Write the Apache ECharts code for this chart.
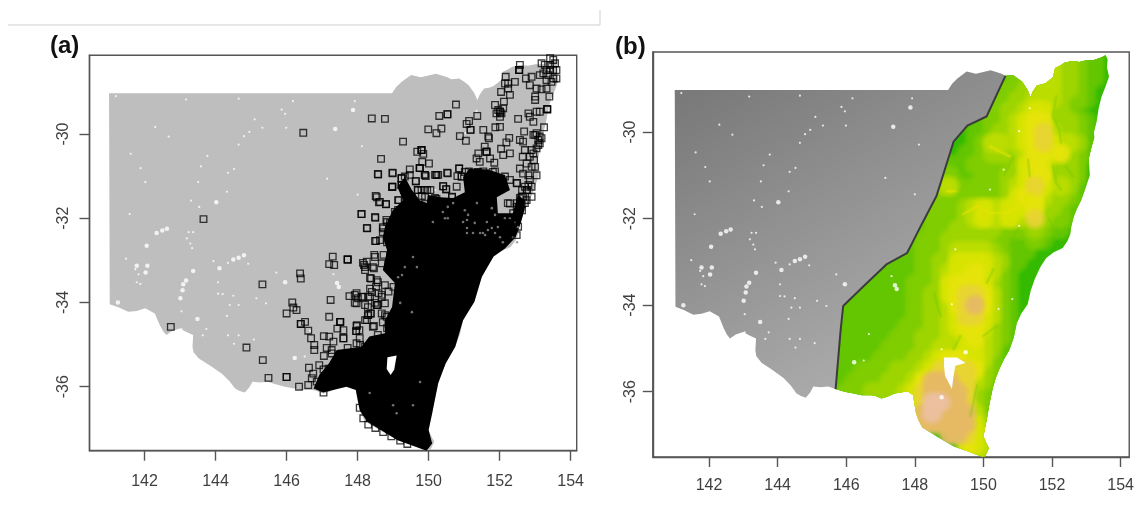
<!DOCTYPE html>
<html><head><meta charset="utf-8">
<style>html,body{margin:0;padding:0;background:#fff}#c{width:1137px;height:511px;filter:blur(0.4px)}</style>
<script src="https://cdn.jsdelivr.net/npm/echarts@6/dist/echarts.min.js"></script>
</head><body><div id="c"></div>
<script>
const lonTicks=[142,144,146,148,150,152,154];
const latTicks=[-36,-34,-32,-30];
const coastEast=[[150.64,-28.7],[150.86,-28.68],[151.0,-28.76],[151.13,-28.84],[151.22,-28.95],[151.29,-29.03],[151.37,-29.19],[151.44,-29.06],[151.56,-28.92],[151.7,-28.9],[151.83,-28.86],[152.04,-28.72],[152.06,-28.6],[152.09,-28.52],[152.24,-28.46],[152.36,-28.4],[152.58,-28.36],[152.8,-28.38],[153.0,-28.34],[153.2,-28.34],[153.44,-28.27],[153.56,-28.22],[153.62,-28.32],[153.6,-28.5],[153.66,-28.72],[153.56,-28.95],[153.44,-29.19],[153.36,-29.45],[153.3,-29.75],[153.22,-30.0],[153.23,-30.14],[153.14,-30.38],[153.07,-30.62],[153.1,-31.0],[152.98,-31.28],[152.85,-31.57],[152.72,-31.78],[152.63,-31.96],[152.56,-32.18],[152.53,-32.36],[152.45,-32.52],[152.31,-32.68],[152.05,-32.78],[151.83,-32.91],[151.66,-33.12],[151.5,-33.39],[151.38,-33.66],[151.29,-33.98],[151.1,-34.2],[150.97,-34.42],[150.88,-34.76],[150.75,-35.05],[150.6,-35.25],[150.48,-35.45],[150.36,-35.68],[150.27,-35.92],[150.17,-36.3],[150.1,-36.63],[150.0,-37.03],[150.08,-37.18],[150.16,-37.31],[150.05,-37.5],[149.94,-37.5],[149.55,-37.38],[149.13,-37.27],[148.66,-37.05],[148.22,-36.83],[148.1,-36.65],[148.03,-36.48],[147.98,-36.25],[147.95,-36.08],[147.79,-35.99],[147.6,-36.02],[147.41,-36.04],[147.2,-36.12],[147.03,-36.16],[146.85,-36.1],[146.71,-36.08],[146.45,-36.08],[146.22,-36.04],[145.95,-36.0],[145.69,-35.94]];
const borderWest=[[145.69,-35.94],[145.47,-35.88],[145.25,-35.9],[145.04,-35.88],[144.95,-36.02],[144.82,-36.14],[144.68,-36.1],[144.55,-36.04],[144.38,-35.86],[144.18,-35.69],[143.85,-35.5],[143.53,-35.33],[143.38,-35.18],[143.35,-35.05],[143.37,-34.77],[143.18,-34.7],[142.99,-34.62],[142.78,-34.68],[142.61,-34.77],[142.52,-34.68],[142.43,-34.54],[142.29,-34.26],[142.02,-34.14],[141.78,-34.2],[141.54,-34.22],[141.28,-34.12],[141.02,-34.04],[141.0,-29.03],[143.0,-29.03],[145.0,-29.03],[147.0,-29.03],[148.97,-29.03],[149.08,-28.89],[149.24,-28.76],[149.51,-28.6],[149.78,-28.65],[150.21,-28.57],[150.53,-28.65],[150.64,-28.7]];
const divideLine=[[150.64,-28.7],[150.09,-29.64],[149.53,-29.85],[149.13,-30.22],[148.63,-31.48],[148.22,-32.1],[147.77,-32.8],[147.17,-33.06],[146.51,-33.56],[145.91,-34.02],[145.83,-34.63],[145.69,-35.94]];
const snowyLake=[[148.85,-35.21],[148.85,-35.4],[148.88,-35.63],[149.08,-35.94],[149.13,-35.63],[149.18,-35.4],[149.48,-35.34],[149.23,-35.21]];
const denseGap=[[148.84,-35.3],[149.1,-35.26],[149.03,-35.6],[148.93,-35.72],[148.82,-35.58]];
const denseRecords=[[148.33,-34.81],[148.11,-35.05],[147.41,-35.13],[147.19,-35.45],[146.92,-35.72],[146.76,-36.04],[147.03,-36.14],[147.68,-36.0],[147.95,-36.08],[148.06,-36.56],[148.27,-36.83],[149.13,-37.27],[149.94,-37.52],[150.1,-37.35],[150.0,-37.03],[150.1,-36.63],[150.27,-35.92],[150.48,-35.45],[150.75,-35.05],[150.97,-34.42],[151.29,-33.98],[151.5,-33.39],[151.83,-32.91],[152.15,-32.72],[152.45,-32.45],[152.6,-32.1],[152.7,-31.8],[152.71,-31.57],[152.51,-31.45],[152.37,-31.88],[151.95,-31.88],[151.92,-31.5],[152.29,-31.33],[152.15,-30.97],[151.73,-30.86],[151.16,-30.81],[150.97,-31.02],[151.02,-31.38],[150.69,-31.52],[150.32,-31.5],[149.98,-31.45],[149.95,-31.64],[149.75,-31.57],[149.53,-31.33],[149.33,-31.02],[149.12,-31.26],[149.28,-31.57],[148.99,-31.81],[148.77,-32.21],[148.71,-32.45],[148.83,-32.76],[148.71,-33.23],[149.05,-33.54],[148.97,-34.11],[148.77,-34.42],[148.77,-34.73]];
const denseSpeckles=[[150.12,-32.09],[150.46,-32.0],[150.54,-32.0],[151.02,-31.81],[151.11,-31.92],[151.08,-32.04],[150.97,-32.09],[151.36,-31.64],[151.78,-31.76],[151.87,-31.92],[151.64,-32.09],[151.78,-32.23],[151.67,-32.28],[151.45,-32.35],[151.25,-32.35],[151.08,-32.23],[151.3,-32.11],[150.4,-31.85],[150.54,-31.73],[150.69,-31.64],[151.95,-32.21],[151.08,-32.35],[151.53,-32.35],[152.15,-32.0],[152.29,-32.0],[151.87,-32.35],[152.01,-32.45],[152.43,-32.11],[152.51,-32.21],[151.59,-32.4],[152.09,-32.57],[152.38,-32.45],[152.49,-32.57],[149.2,-34.01],[149.53,-34.23],[149.56,-32.92],[149.67,-33.16],[149.25,-33.35],[149.33,-33.16],[149.14,-33.4],[149.76,-35.89],[149.56,-36.44],[149.1,-36.63],[149.0,-36.44],[148.34,-36.15]];
const occurrenceLon=[153.51,153.42,153.27,153.18,153.23,153.37,153.32,153.51,153.6,153.51,153.46,153.6,153.42,153.56,153.42,153.32,152.57,152.55,152.55,152.55,152.17,152.15,152.24,152.43,152.24,152.04,152.29,152.12,152.74,152.9,152.85,153.04,153.18,153.32,153.13,153.0,153.0,153.4,153.13,153.34,153.34,153.34,153.04,152.81,152.85,152.52,152.95,152.69,153.25,153.0,153.13,153.09,153.04,152.95,152.66,152.57,152.71,152.65,152.85,152.97,153.0,152.57,152.66,152.81,153.04,152.81,152.9,152.76,152.62,152.9,152.48,152.29,152.57,152.43,152.38,152.24,152.48,153.13,153.09,153.18,152.9,152.95,153.04,152.9,152.76,152.85,152.71,152.66,152.76,152.62,152.48,152.38,152.48,152.29,152.52,150.77,150.3,150.53,150.53,149.99,150.22,150.36,149.28,151.14,151.07,151.37,151.18,151.18,150.88,151.05,151.54,151.68,151.7,151.88,152.01,152.27,152.19,152.04,152.1,152.29,151.87,151.96,152.05,151.91,152.1,152.01,152.01,152.01,149.8,149.8,149.8,149.68,149.85,149.75,149.75,149.75,149.82,150.01,149.47,149.24,149.24,149.24,149.33,149.24,149.24,149.24,148.98,148.98,149.89,149.92,149.64,150.22,150.22,150.52,150.86,150.86,150.81,150.93,150.93,151.13,151.38,151.54,151.87,151.54,151.73,152.15,152.29,151.4,151.58,151.63,151.63,151.63,151.44,151.73,151.85,151.35,149.69,149.8,149.96,150.41,150.5,150.66,150.22,150.13,149.14,150.79,148.66,148.58,148.98,148.11,148.11,148.27,148.51,148.63,148.8,148.5,148.49,148.4,148.77,148.72,148.91,149.05,148.81,149.14,148.63,149.0,149.19,148.91,149.33,145.32,146.38,146.4,147.3,147.2,147.34,147.72,147.72,147.72,147.24,147.77,147.97,147.97,148.12,148.18,148.26,148.21,148.46,148.38,148.54,148.47,148.73,149.05,149.38,148.68,148.91,146.0,146.16,146.19,146.28,146.4,146.4,146.52,146.61,146.69,146.78,146.78,147.2,147.43,147.51,147.51,147.51,147.6,147.97,147.96,147.96,148.05,147.05,147.2,147.32,147.6,147.6,147.13,147.27,147.72,147.05,147.27,147.97,148.07,148.21,148.26,148.3,148.46,148.21,148.37,148.37,148.54,148.54,148.68,148.59,148.35,148.3,148.87,149.01,148.77,148.68,148.82,148.87,149.05,149.15,149.1,149.2,145.33,145.49,146.0,146.0,146.35,146.61,146.63,146.75,146.92,147.04,147.18,146.71,146.85,147.04,144.87,146.47,143.66,142.74,148.06,148.16,148.3,148.5,148.72,148.95,149.2,149.4];
const occurrenceLat=[-28.24,-28.36,-28.36,-28.32,-28.56,-28.6,-28.48,-28.48,-28.48,-28.68,-28.76,-28.68,-28.2,-28.32,-28.48,-28.72,-28.36,-28.48,-28.48,-28.48,-28.64,-28.8,-28.8,-28.76,-28.92,-29.0,-29.07,-29.23,-28.68,-28.64,-28.84,-28.92,-28.94,-28.92,-28.6,-29.11,-29.19,-29.11,-29.47,-29.41,-29.41,-29.41,-29.47,-29.51,-29.59,-29.64,-29.71,-29.94,-29.84,-30.02,-30.06,-30.26,-30.34,-30.46,-30.18,-30.14,-30.38,-30.54,-30.54,-30.62,-30.78,-30.82,-30.94,-30.98,-30.98,-31.21,-31.25,-31.33,-31.49,-31.49,-31.17,-31.65,-31.73,-32.04,-32.12,-32.12,-32.4,-30.22,-30.14,-30.1,-30.38,-30.02,-29.98,-30.78,-30.7,-31.09,-31.25,-31.49,-31.57,-31.67,-31.73,-31.88,-31.96,-32.04,-32.2,-29.3,-29.57,-29.53,-29.53,-29.89,-29.98,-29.87,-30.18,-29.69,-29.76,-29.57,-29.9,-29.9,-30.05,-30.16,-29.9,-30.06,-30.1,-29.84,-29.83,-30.09,-30.2,-30.35,-30.5,-30.46,-29.31,-29.43,-29.51,-29.51,-29.39,-29.59,-29.47,-29.47,-30.38,-30.38,-30.38,-30.42,-30.47,-30.81,-30.81,-30.81,-30.66,-30.7,-30.84,-31.05,-31.05,-31.05,-31.01,-31.21,-31.21,-31.21,-31.25,-31.25,-30.97,-31.0,-31.12,-30.97,-30.97,-30.92,-30.82,-30.82,-31.0,-31.01,-31.01,-30.89,-30.91,-30.89,-30.89,-31.09,-31.05,-31.01,-31.09,-30.46,-30.3,-30.42,-30.42,-30.42,-30.66,-30.58,-30.68,-30.58,-31.33,-31.33,-31.33,-31.24,-31.31,-31.49,-31.54,-31.57,-31.57,-31.25,-30.59,-30.96,-30.92,-31.9,-31.9,-32.24,-31.47,-31.61,-31.67,-31.99,-32.54,-29.63,-29.64,-32.24,-32.12,-32.0,-32.04,-31.8,-32.52,-32.56,-32.44,-32.4,-32.2,-33.57,-33.31,-33.43,-32.91,-33.09,-33.11,-32.98,-32.98,-32.98,-33.94,-33.85,-33.78,-34.02,-33.86,-33.11,-33.03,-33.23,-33.19,-33.43,-33.47,-32.87,-32.87,-32.78,-32.83,-33.07,-33.07,-34.26,-34.0,-34.12,-34.18,-34.51,-34.51,-34.46,-34.67,-34.85,-35.01,-35.13,-34.34,-34.62,-34.46,-34.46,-34.46,-34.66,-34.56,-34.68,-34.68,-34.66,-34.8,-34.81,-34.93,-34.85,-34.85,-35.08,-35.13,-35.08,-35.27,-35.21,-34.97,-35.01,-35.05,-34.42,-34.3,-34.56,-34.06,-34.26,-34.26,-34.06,-34.06,-33.82,-33.78,-33.67,-33.86,-33.74,-33.63,-34.02,-34.26,-34.34,-34.51,-34.5,-34.3,-34.62,-34.66,-35.37,-35.79,-35.77,-35.77,-36.0,-35.96,-35.55,-35.69,-35.49,-35.59,-35.57,-35.8,-35.88,-36.14,-35.07,-29.97,-32.02,-34.58,-36.5,-36.75,-36.9,-36.98,-37.08,-37.18,-37.28,-37.36];
const occurrencesDenseEdge=[[148.57,-30.95],[148.99,-30.93],[148.97,-31.26],[148.54,-31.5],[148.6,-31.62],[148.8,-31.66],[149.16,-31.57],[148.49,-31.97],[148.26,-32.23],[148.83,-32.09],[149.05,-31.85],[148.71,-32.21],[148.71,-32.33],[148.52,-32.54],[148.83,-32.57],[148.97,-32.47],[148.97,-32.64],[149.19,-32.52],[149.64,-31.12],[149.7,-31.33],[149.9,-31.33],[149.47,-30.97],[149.53,-31.5],[149.81,-31.47],[148.49,-32.92],[148.21,-33.16],[148.15,-33.06],[148.43,-33.16],[148.35,-33.42],[148.57,-33.52],[148.52,-33.63],[148.77,-33.59],[147.92,-33.82],[148.01,-33.9],[148.15,-33.87],[148.4,-33.75],[147.92,-34.01],[148.35,-33.87],[148.49,-34.01],[148.68,-33.87],[148.57,-34.06],[148.29,-34.11],[148.29,-34.3],[148.21,-34.42],[148.77,-34.3],[148.71,-34.47],[148.99,-34.37],[147.98,-34.54],[148.43,-34.58],[148.83,-34.61],[149.05,-34.58],[148.57,-34.77],[148.06,-34.85],[150.66,-31.5],[151.02,-30.9],[151.39,-30.9],[151.59,-30.93],[151.81,-30.9],[151.16,-31.14],[151.53,-31.14],[152.49,-31.16],[152.23,-31.64],[152.63,-31.33],[152.77,-31.33],[152.57,-31.52],[152.71,-31.64],[152.49,-31.64],[152.63,-31.81],[152.52,-31.88],[150.18,-30.97],[150.27,-30.97],[150.54,-30.93],[149.9,-30.97],[150.41,-31.24],[150.49,-31.31],[150.18,-31.52],[150.05,-31.33],[149.9,-31.5],[150.12,-31.64]];
const smallGaps=[[141.19,-29.1],[143.17,-29.18],[144.65,-29.16],[146.18,-29.22],[147.92,-29.22],[145.86,-29.42],[145.96,-29.52],[145.1,-29.65],[145.32,-29.85],[145.99,-29.85],[142.3,-29.83],[144.95,-29.95],[144.8,-30.05],[144.65,-30.25],[142.68,-30.06],[148.12,-30.29],[141.61,-30.47],[143.77,-30.52],[141.89,-30.81],[143.59,-30.77],[144.35,-30.92],[144.52,-30.83],[142.02,-31.14],[143.51,-31.14],[147.14,-31.06],[148.0,-31.44],[144.32,-31.37],[143.31,-31.58],[143.54,-31.73],[141.58,-31.9],[143.24,-32.33],[143.37,-32.33],[143.19,-32.48],[143.29,-32.6],[143.34,-32.71],[141.48,-32.96],[143.94,-33.02],[144.35,-33.06],[144.92,-33.08],[145.71,-33.29],[141.74,-33.21],[141.83,-33.33],[141.78,-33.52],[141.88,-33.56],[144.07,-33.52],[144.07,-33.79],[144.2,-33.8],[144.5,-33.84],[144.4,-34.06],[144.65,-34.06],[145.15,-33.9],[145.42,-34.02],[144.32,-34.32],[143.04,-34.21],[143.74,-34.63],[143.64,-34.78],[144.35,-34.78],[144.65,-34.78],[145.08,-34.88],[143.04,-34.63],[144.52,-34.98],[146.66,-34.67],[146.51,-35.28],[147.32,-33.33],[149.18,-32.71],[150.19,-31.33],[151.04,-29.98],[151.35,-29.45],[150.59,-30.87],[149.08,-33.98],[150.44,-34.09],[150.84,-33.86],[148.78,-35.02],[151.04,-32.17]];
const largeGaps=[[147.37,-29.88],[147.87,-29.43],[144.02,-31.62],[142.06,-32.65],[142.34,-32.35],[142.5,-32.29],[142.63,-32.25],[143.17,-33.48],[143.09,-33.57],[143.07,-33.71],[143.01,-33.9],[143.37,-33.25],[142.03,-33.29],[142.08,-33.13],[141.78,-33.13],[144.11,-33.19],[144.5,-32.98],[144.65,-32.94],[144.8,-32.88],[141.25,-34.0],[143.49,-34.39],[147.47,-33.63],[147.42,-33.54],[145.96,-33.52],[146.23,-35.32],[149.48,-35.09],[148.78,-36.13]];
const elevationLats=[-28.25,-28.5,-28.75,-29,-29.25,-29.5,-29.75,-30,-30.25,-30.5,-30.75,-31,-31.25,-31.5,-31.75,-32,-32.25,-32.5,-32.75,-33,-33.25,-33.5,-33.75,-34,-34.25,-34.5,-34.75,-35,-35.25,-35.5,-35.75,-36,-36.25,-36.5,-36.75,-37,-37.25,-37.5];
const elevationLons=[145.75,146,146.25,146.5,146.75,147,147.25,147.5,147.75,148,148.25,148.5,148.75,149,149.25,149.5,149.75,150,150.25,150.5,150.75,151,151.25,151.5,151.75,152,152.25,152.5,152.75,153,153.25,153.5,153.75];
const elevationRows=[
[0,0,0,0,0,0,0,0,0,0,0,0,0,0,0,0,0,0,0,0,0,0,0,0,0,3,3,3,2,1,1,0,0],
[0,0,0,0,0,0,0,0,0,0,0,0,0,0,0,0,0,0,0,0,0,0,0,0,3,4,3,3,2,1,1,0,0],
[0,0,0,0,0,0,0,0,0,0,0,0,0,0,0,0,0,0,0,1,1,2,2,3,3,4,3,3,2,1,1,0,0],
[0,0,0,0,0,0,0,0,0,0,0,0,0,0,0,0,0,0,1,1,2,2,3,3,4,4,3,3,2,1,0,0,0],
[0,0,0,0,0,0,0,0,0,0,0,0,0,0,0,0,0,1,1,2,2,3,3,4,4,4,3,2,2,1,0,0,0],
[0,0,0,0,0,0,0,0,0,0,0,0,0,0,0,0,0,1,2,2,3,3,4,5,5,3,3,2,1,0,0,0,0],
[0,0,0,0,0,0,0,0,0,0,0,0,0,0,0,0,0,1,2,2,3,4,5,6,6,3,3,3,2,1,0,0,0],
[0,0,0,0,0,0,0,0,0,0,0,0,0,0,0,0,1,1,2,3,3,4,5,6,7,4,3,3,2,1,0,0,0],
[0,0,0,0,0,0,0,0,0,0,0,0,0,0,0,0,1,2,4,4,3,4,5,6,7,5,4,4,3,1,0,0,0],
[0,0,0,0,0,0,0,0,0,0,0,0,0,0,0,1,1,2,3,3,3,3,4,6,6,4,6,3,2,1,0,0,0],
[0,0,0,0,0,0,0,0,0,0,0,0,0,1,1,1,2,2,2,2,2,3,5,6,5,3,3,3,2,0,0,0,0],
[0,0,0,0,0,0,0,0,0,0,0,0,1,2,1,1,1,2,2,2,3,3,5,6,6,3,3,3,2,0,0,0,0],
[0,0,0,0,0,0,0,0,0,0,0,1,3,4,2,1,2,2,2,2,3,4,5,7,5,3,4,3,1,0,0,0,0],
[0,0,0,0,0,0,0,0,0,0,1,1,2,2,2,2,2,2,2,2,3,5,6,6,4,2,3,2,1,0,0,0,0],
[0,0,0,0,0,0,0,0,0,0,1,2,2,2,2,3,4,5,4,4,5,5,5,6,3,3,2,1,0,0,0,0,0],
[0,0,0,0,0,0,0,0,0,1,1,2,2,2,2,3,4,5,4,4,5,4,3,7,3,2,2,1,0,0,0,0,0],
[0,0,0,0,0,0,0,0,1,1,1,2,2,2,3,3,3,3,3,2,2,2,2,3,2,1,1,0,0,0,0,0,0],
[0,0,0,0,0,0,0,1,1,1,2,2,2,3,3,3,3,3,2,2,1,1,1,2,1,0,0,0,0,0,0,0,0],
[0,0,0,0,0,0,1,1,1,1,2,2,2,3,4,4,4,4,3,2,1,1,1,0,0,0,0,0,0,0,0,0,0],
[0,0,0,0,1,1,1,1,1,1,2,2,3,3,5,5,5,5,4,3,1,1,0,0,0,0,0,0,0,0,0,0,0],
[0,0,1,1,1,1,1,1,1,1,2,2,3,4,5,5,6,5,4,2,1,0,0,0,0,0,0,0,0,0,0,0,0],
[0,1,1,1,1,1,1,1,1,2,2,2,3,5,6,6,6,5,3,2,1,0,0,0,0,0,0,0,0,0,0,0,0],
[0,1,1,1,1,1,1,1,1,2,2,3,3,5,6,7,7,6,4,2,1,0,0,0,0,0,0,0,0,0,0,0,0],
[1,1,1,1,1,1,1,1,1,2,2,3,3,4,6,7,8,6,4,2,1,0,0,0,0,0,0,0,0,0,0,0,0],
[1,1,1,1,1,1,1,1,1,2,2,3,3,4,5,7,7,5,4,2,1,0,0,0,0,0,0,0,0,0,0,0,0],
[1,1,1,1,1,1,1,1,2,2,2,3,3,4,5,6,6,5,3,2,1,0,0,0,0,0,0,0,0,0,0,0,0],
[1,1,1,1,1,1,1,2,2,2,3,3,3,4,4,5,6,4,3,2,1,0,0,0,0,0,0,0,0,0,0,0,0],
[1,1,1,1,1,1,2,2,2,2,3,3,4,4,4,5,5,4,3,1,0,0,0,0,0,0,0,0,0,0,0,0,0],
[1,1,1,1,1,2,2,2,2,3,3,4,5,6,6,5,5,4,2,1,0,0,0,0,0,0,0,0,0,0,0,0,0],
[1,1,1,2,2,2,2,3,3,3,4,5,7,7,7,7,6,3,2,1,0,0,0,0,0,0,0,0,0,0,0,0,0],
[1,1,2,2,2,2,3,3,3,4,6,8,8,8,7,7,4,3,1,0,0,0,0,0,0,0,0,0,0,0,0,0,0],
[1,2,2,2,3,3,3,3,4,5,7,8,8,8,8,7,3,2,1,0,0,0,0,0,0,0,0,0,0,0,0,0,0],
[0,0,0,0,0,0,0,0,4,5,7,9,9,8,8,7,3,2,1,0,0,0,0,0,0,0,0,0,0,0,0,0,0],
[0,0,0,0,0,0,0,0,4,5,8,9,8,8,8,8,4,2,1,0,0,0,0,0,0,0,0,0,0,0,0,0,0],
[0,0,0,0,0,0,0,0,0,6,8,8,8,8,8,8,5,3,2,0,0,0,0,0,0,0,0,0,0,0,0,0,0],
[0,0,0,0,0,0,0,0,0,0,0,0,0,8,8,7,5,4,0,0,0,0,0,0,0,0,0,0,0,0,0,0,0],
[0,0,0,0,0,0,0,0,0,0,0,0,0,0,0,6,5,4,3,0,0,0,0,0,0,0,0,0,0,0,0,0,0],
[0,0,0,0,0,0,0,0,0,0,0,0,0,0,0,0,4,3,0,0,0,0,0,0,0,0,0,0,0,0,0,0,0]];
const ridgeLines=[[[149.81,-31.72],[150.15,-31.87],[150.67,-31.87],[151.15,-31.64],[151.44,-31.41]],[[148.94,-31.37],[149.18,-31.37]],[[150.19,-30.33],[150.38,-30.41],[150.77,-30.56]],[[149.4,-31.9],[149.81,-31.72]]];
const valleyLines=[[[152.12,-29.18],[152.02,-29.64],[152.21,-29.95],[152.26,-30.25]],[[152.02,-30.79],[152.12,-31.18],[152.26,-31.33]],[[152.4,-30.79],[152.6,-31.02]],[[151.92,-32.02],[152.12,-32.41]],[[151.3,-30.64],[151.35,-31.02]],[[150.1,-33.48],[150.29,-33.17]],[[148.56,-33.71],[148.75,-34.25]],[[150.0,-34.71],[150.38,-34.48]],[[149.33,-34.71],[149.13,-35.02]],[[149.81,-35.86],[149.62,-36.56]],[[150.6,-31.0],[150.85,-30.6]],[[151.05,-32.2],[150.75,-32.6]]];
const elevationPalette=[[52,187,0],[100,198,0],[128,205,0],[158,213,0],[188,221,0],[216,228,0],[230,228,10],[232,212,50],[230,186,100],[236,192,160]];

const elevationCells=[];
elevationRows.forEach((row,r)=>row.forEach((v,c)=>{if(v>0)elevationCells.push([elevationLons[c],elevationLats[r],v]);}));
elevationCells.sort((a,b)=>a[2]-b[2]);
const stateRing=coastEast.concat(borderWest);
const westRing=borderWest.concat(divideLine.slice(1));
const eastRing=coastEast.concat(divideLine.slice(0,-1).reverse());
const occurrences=occurrenceLon.map((x,i)=>[x,occurrenceLat[i]]).concat(occurrencesDenseEdge);

function ringSeries(name,axis,ring,style,z){
  return {type:'custom',name,xAxisIndex:axis,yAxisIndex:axis,z,silent:true,animation:false,clip:true,
    encode:{x:0,y:1},data:ring,
    renderItem(params,api){
      if(params.dataIndex!==0)return null;
      return {type:'polygon',shape:{points:ring.map(p=>api.coord(p))},style};
    }};
}
function traceSeries(name,lines,stroke,width,z){
  return {type:'custom',name,xAxisIndex:1,yAxisIndex:1,z,silent:true,animation:false,
    encode:{x:0,y:1},data:lines.map((l,i)=>[l[0][0],l[0][1],i]),
    renderItem(params,api){
      const line=lines[params.dataIndex];
      return {type:'polyline',shape:{points:line.map(p=>api.coord(p))},
        clipPath:{type:'polygon',shape:{points:eastRing.map(p=>api.coord(p))}},
        style:{stroke,lineWidth:width,fill:null,lineCap:'round',lineJoin:'round',shadowBlur:4,shadowColor:stroke}};
    }};
}
function dotSeries(name,axis,data,size,z,color){
  return {type:'scatter',name,xAxisIndex:axis,yAxisIndex:axis,z,silent:true,animation:false,
    symbol:'circle',symbolSize:size,itemStyle:{color:color||'#fff'},data};
}
const axisLine={show:true,onZero:false,lineStyle:{color:'#555',width:1.4}};
function xAxis(i,margin){
  return {type:'value',gridIndex:i,min:i?140.36:140.45,max:i?154.25:154.17,axisLine,splitLine:{show:false},
    axisTick:{show:true,length:10,customValues:lonTicks,lineStyle:{color:'#555',width:1.4}},
    axisLabel:{customValues:lonTicks,margin,color:'#3f3f3f',fontSize:16,fontFamily:'"Liberation Sans",Arial,sans-serif',formatter:v=>String(v)}};
}
function yAxis(i,margin){
  return {type:'value',gridIndex:i,min:i?-37.51:-37.52,max:i?-28.15:-28.13,axisLine,splitLine:{show:false},
    axisTick:{show:true,length:10,customValues:latTicks,lineStyle:{color:'#555',width:1.4}},
    axisLabel:{customValues:latTicks,rotate:90,margin,color:'#3f3f3f',fontSize:16,fontFamily:'"Liberation Sans",Arial,sans-serif',formatter:v=>String(v),align:'center',verticalAlign:'middle'}};
}
const chart=echarts.init(document.getElementById('c'),null,{renderer:'canvas'});
chart.setOption({
  animation:false,backgroundColor:'#fff',
  grid:[
    {left:89.5,top:55.3,width:487.2,height:395.4,show:true,borderColor:'#555',borderWidth:1.4,backgroundColor:'#fff'},
    {left:652.8,top:52,width:480.8,height:405,show:true,borderColor:'#555',borderWidth:1.4,backgroundColor:'#fff'}
  ],
  xAxis:[xAxis(0,23),xAxis(1,21)],
  yAxis:[yAxis(0,26),yAxis(1,22)],
  graphic:[
    {type:'line',silent:true,shape:{x1:8,y1:25,x2:600,y2:25},style:{stroke:'#cfcfcf',lineWidth:1}},
    {type:'line',silent:true,shape:{x1:600,y1:10,x2:600,y2:25},style:{stroke:'#cfcfcf',lineWidth:1}},
    {type:'text',left:50,top:34,silent:true,style:{text:'(a)',fill:'#111',font:'bold 24px "Liberation Sans",Arial,sans-serif'}},
    {type:'text',left:615,top:35,silent:true,style:{text:'(b)',fill:'#111',font:'bold 24px "Liberation Sans",Arial,sans-serif'}}
  ],
  series:[
    ringSeries('state a',0,stateRing,{fill:'#bebebe'},2),
    dotSeries('gaps a',0,smallGaps,2.2,3),
    dotSeries('large gaps a',0,largeGaps,4.5,3),
    ringSeries('dense records',0,denseRecords,{fill:'#000'},4),
    ringSeries('gap in records',0,denseGap,{fill:'#fff'},5),
    dotSeries('speckles in records',0,denseSpeckles,2.6,5,'#8f8f8f'),
    {type:'scatter',name:'occurrences',xAxisIndex:0,yAxisIndex:0,z:6,silent:true,animation:false,large:false,progressive:0,
      symbol:'rect',symbolSize:6.6,itemStyle:{color:'rgba(0,0,0,0)',borderColor:'rgba(0,0,0,0.95)',borderWidth:1.3},data:occurrences},
    ringSeries('outside zone',1,westRing,{fill:{type:'linear',x:0.2,y:0,x2:0.75,y2:1,colorStops:[{offset:0,color:'#7a7a7a'},{offset:1,color:'#b2b2b2'}]}},2),
    ringSeries('study zone',1,eastRing,{fill:'rgb(52,187,0)'},2),
    {type:'custom',name:'elevation',xAxisIndex:1,yAxisIndex:1,z:3,silent:true,animation:false,progressive:0,
      encode:{x:0,y:1},data:elevationCells,
      renderItem(params,api){
        const c=api.coord([api.value(0),api.value(1)]);
        const rgb=elevationPalette[api.value(2)].join(',');
        const s=api.size([0.25,0.25]);
        const r=Math.max(s[0],s[1])*1.2;
        const clipPts=eastRing.map(p=>api.coord(p));
        return {type:'circle',shape:{cx:c[0],cy:c[1],r},clipPath:{type:'polygon',shape:{points:clipPts}},
          style:{fill:{type:'radial',x:0.5,y:0.5,r:0.5,colorStops:[{offset:0,color:`rgba(${rgb},1)`},{offset:0.5,color:`rgba(${rgb},0.9)`},{offset:1,color:`rgba(${rgb},0)`}]}}};
      }},
    traceSeries('valleys',valleyLines,'rgba(110,200,0,0.3)',2.5,4),
    traceSeries('ridges',ridgeLines,'rgba(225,228,0,0.55)',2.5,4),
    dotSeries('gaps b',1,smallGaps,2.2,5),
    dotSeries('large gaps b',1,largeGaps,4.5,5),
    ringSeries('lake',1,snowyLake,{fill:'#fff'},5),
    {type:'line',name:'divide',xAxisIndex:1,yAxisIndex:1,z:6,silent:true,animation:false,showSymbol:false,
      lineStyle:{color:'#3c3c3c',width:2},data:divideLine}
  ]
});
</script></body></html>
